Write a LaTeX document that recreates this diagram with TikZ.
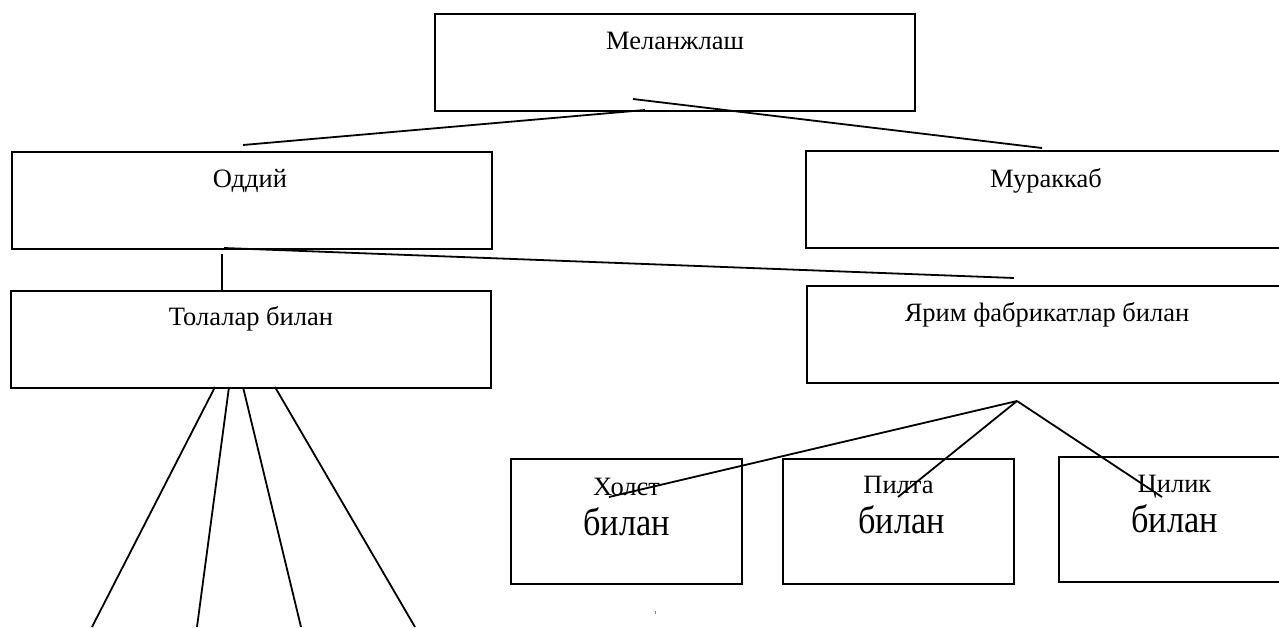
\documentclass[tikz,border=0pt]{standalone}
\usepackage{fontspec}
\setmainfont{Liberation Serif}
\newfontfamily\bigfont[FakeStretch=0.88]{Liberation Serif}
\usetikzlibrary{calc}
\tikzset{
  box/.style={draw, line width=2pt, inner sep=0pt, anchor=north west},
  bigbox/.style={box, minimum width=480pt, minimum height=97pt},
  smallbox/.style={box, minimum width=231pt, minimum height=125pt},
  lbl/.style={inner sep=0pt, anchor=base, font=\fontsize{26.5}{30}\selectfont},
  biglbl/.style={inner sep=0pt, anchor=base, font=\bigfont\fontsize{39}{42}\selectfont},
  conn/.style={line width=1.8pt}
}
\begin{document}
\begin{tikzpicture}[x=1pt,y=-1pt]
\useasboundingbox (0,0) rectangle (1279,627);
\clip (0,0) rectangle (1279,627);
% boxes
\node[bigbox] (m)   at (434,13)  {};
\node[bigbox] (od)  at (11,151)  {};
\node[bigbox] (mu)  at (805,150) {};
\node[bigbox] (tol) at (10,290)  {};
\node[bigbox] (ya)  at (806,285) {};
\node[smallbox] (xo) at (510,458) {};
\node[smallbox] (pi) at (782,458) {};
\node[smallbox] (ci) at (1058,456) {};
% texts
\node[lbl] (mt)   at ($(m.north)+(0,36)$)   {Меланжлаш};
\node[lbl] (odt)  at ($(od.north)+(-2,36)$) {Оддий};
\node[lbl] (mut)  at ($(mu.north)+(0,37)$)  {Мураккаб};
\node[lbl] (tolt) at ($(tol.north)+(0,35)$) {Толалар билан};
\node[lbl] (yat)  at ($(ya.north)+(0,36)$)  {Ярим фабрикатлар билан};
\node[lbl] (xot)  at ($(xo.north)+(0,37)$)  {Холст};
\node[biglbl] (xob) at ($(xo.north)+(0,77)$) {билан};
\node[lbl] (pit)  at ($(pi.north)+(0,35)$)  {Пилта};
\node[biglbl] (pib) at ($(pi.north)+(3,75)$) {билан};
\node[lbl] (cit)  at ($(ci.north)+(0,36)$)  {Цилик};
\node[biglbl] (cib) at ($(ci.north)+(0,76)$) {билан};
% connector points
\coordinate (m1) at (645,110);
\coordinate (m2) at (633,99);
\coordinate (od1) at (243,145);
\coordinate (mu1) at (1042,148);
\coordinate (od2) at (222,254);
\coordinate (tol1) at (222,290);
\coordinate (od3) at (224,248);
\coordinate (ya1) at (1014,278);
\coordinate (apex) at (1017,401);
\coordinate (xo1) at (609,497);
\coordinate (pi1) at (898,497);
\coordinate (ci1) at (1162,497);
\coordinate (t1) at (215,387);
\coordinate (t2) at (229,387);
\coordinate (t3) at (243,387);
\coordinate (t4) at (275,387);
\coordinate (b1) at (92,627);
\coordinate (b2) at (197,627);
\coordinate (b3) at (301,627);
\coordinate (b4) at (415,627);
% connectors
\draw[conn] (m1) -- (od1);
\draw[conn] (m2) -- (mu1);
\draw[conn] (od2) -- (tol1);
\draw[conn] (od3) -- (ya1);
\draw[conn] (apex) -- (xo1);
\draw[conn] (apex) -- (pi1);
\draw[conn] (apex) -- (ci1);
\draw[conn] (t1) -- (b1);
\draw[conn] (t2) -- (b2);
\draw[conn] (t3) -- (b3);
\draw[conn] (t4) -- (b4);
% stray mark
\fill[gray] (654.5,611) rectangle (655.8,614);
\end{tikzpicture}
\end{document}
